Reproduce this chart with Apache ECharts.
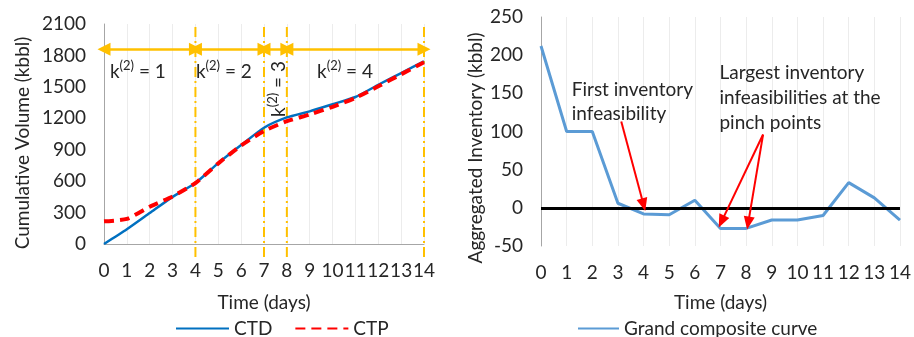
<!DOCTYPE html>
<html>
<head>
<meta charset="utf-8">
<script src="https://cdn.jsdelivr.net/npm/echarts@6/dist/echarts.min.js"></script>
<style>
html, body { margin: 0; padding: 0; background: #fff; }
#chart { width: 914px; height: 337px; }
</style>
</head>
<body>
<div id="chart"></div>
<script>
// values
var days = [0, 1, 2, 3, 4, 5, 6, 7, 8, 9, 10, 11, 12, 13, 14];
var ctd = [0, 140, 295, 450, 582, 772, 944, 1110, 1208, 1266, 1334, 1403, 1520, 1632, 1743];
var ctp = [216, 239, 356, 454, 582, 770, 940, 1078, 1172, 1236, 1310, 1395, 1505, 1620, 1735];
var gcc = [212, 100, 100, 6, -8, -9, 10, -27, -27, -16, -16, -10, 33, 13, -16];
var kBounds = [0, 4, 7, 8, 14];
var kNames = ['1', '2', '3', '4'];

var FONT = 'Lato, "Liberation Sans", sans-serif';
var FS = 19;
var TXT = '#262626';
var GOLD = '#FFC000';

function pairs(ys) {
  return days.map(function (d, i) { return [d, ys[i]]; });
}

// yellow dash-dot boundaries, reaching a bit under the axis
var boundSeries = kBounds.slice(1).map(function (b) {
  return {
    type: 'line', xAxisIndex: 0, yAxisIndex: 0, clip: false, symbol: 'none', silent: true,
    data: [[b, -125], [b, 2100]],
    lineStyle: { color: GOLD, width: 2, type: [10, 4, 2, 4] }, z: 1
  };
});

// double arrows between boundaries
var kArrows = [];
for (var i = 0; i < kBounds.length - 1; i++) {
  kArrows.push([{ coord: [kBounds[i], 1860] }, { coord: [kBounds[i + 1], 1860] }]);
}

var chart = echarts.init(document.getElementById('chart'));

var axisText = { color: TXT, fontSize: FS, fontFamily: FONT };
var plain = function (v) { return String(v); };

chart.setOption({
  animation: false,
  textStyle: { fontFamily: FONT },
  grid: [
    { left: 104, right: 490, top: 24, bottom: 93 },
    { left: 541, right: 11, top: 17, bottom: 91 }
  ],
  xAxis: [
    {
      gridIndex: 0, type: 'value', min: 0, max: 14, interval: 1,
      name: 'Time (days)', nameLocation: 'middle', nameGap: 49,
      nameTextStyle: axisText,
      axisLine: { lineStyle: { color: '#a6a6a6', width: 1 } },
      axisTick: { show: false },
      axisLabel: Object.assign({ margin: 17, formatter: plain }, axisText),
      splitLine: { show: true, lineStyle: { color: '#ececec' } }
    },
    {
      gridIndex: 1, type: 'value', min: 0, max: 14, interval: 1,
      name: 'Time (days)', nameLocation: 'middle', nameGap: 47,
      nameTextStyle: axisText,
      axisLine: { show: false, onZero: false },
      axisTick: { show: false },
      axisLabel: Object.assign({ margin: 17, formatter: plain }, axisText),
      splitLine: { show: true, lineStyle: { color: '#ececec' } }
    }
  ],
  yAxis: [
    {
      gridIndex: 0, type: 'value', min: 0, max: 2100, interval: 300,
      name: 'Cumulative Volume (kbbl)', nameLocation: 'middle', nameGap: 72,
      nameTextStyle: Object.assign({ padding: [0, 18, 0, 0] }, axisText),
      axisLine: { show: true, lineStyle: { color: '#a6a6a6' } },
      axisTick: { show: false },
      axisLabel: Object.assign({ margin: 18, formatter: plain }, axisText),
      splitLine: { show: false }
    },
    {
      gridIndex: 1, type: 'value', min: -50, max: 250, interval: 50,
      name: 'Aggregated Inventory (kbbl)', nameLocation: 'middle', nameGap: 56,
      nameTextStyle: Object.assign({ padding: [0, 33, 0, 0] }, axisText),
      axisLine: { show: true, onZero: false, lineStyle: { color: '#a6a6a6' } },
      axisTick: { show: false },
      axisLabel: Object.assign({ margin: 18, formatter: plain }, axisText),
      splitLine: { show: false }
    }
  ],
  legend: [
    {
      data: ['CTD', 'CTP'], left: 170, top: 314, itemWidth: 53, itemHeight: 14, itemGap: 22,
      itemStyle: { opacity: 0 },
      textStyle: { color: TXT, fontSize: FS, fontFamily: FONT }
    },
    {
      data: ['Grand composite curve'], left: 572, top: 314, itemWidth: 41, itemHeight: 14,
      itemStyle: { opacity: 0 },
      textStyle: { color: TXT, fontSize: FS, fontFamily: FONT }
    }
  ],
  series: boundSeries.concat([
    {
      name: 'CTD', type: 'line', xAxisIndex: 0, yAxisIndex: 0, symbol: 'none', smooth: 0.2,
      data: pairs(ctd), lineStyle: { color: '#0070C0', width: 2.5 }, itemStyle: { color: '#0070C0' }, z: 3
    },
    {
      name: 'CTP', type: 'line', xAxisIndex: 0, yAxisIndex: 0, symbol: 'none', smooth: 0.2,
      data: pairs(ctp), lineStyle: { color: '#FF0000', width: 4, type: [10, 6] }, itemStyle: { color: '#FF0000' }, z: 4,
      markLine: {
        silent: true, symbol: ['triangle', 'triangle'], symbolSize: [13, 13],
        label: { show: false },
        lineStyle: { color: GOLD, width: 2.5, type: 'solid' },
        data: kArrows
      }
    },
    {
      name: 'Grand composite curve', type: 'line', xAxisIndex: 1, yAxisIndex: 1, symbol: 'none',
      data: pairs(gcc), lineStyle: { color: '#5B9BD5', width: 3 }, itemStyle: { color: '#5B9BD5' }, z: 3,
      markLine: {
        silent: true, symbol: 'none', label: { show: false },
        lineStyle: { color: '#000', width: 3, type: 'solid' },
        data: [{ yAxis: 0 }]
      }
    },
    {
      type: 'line', xAxisIndex: 1, yAxisIndex: 1, symbol: 'none', data: [], z: 5,
      markLine: {
        silent: true, symbol: ['none', 'triangle'], symbolSize: [11, 13],
        label: { show: false },
        lineStyle: { color: '#FF0000', width: 2, type: 'solid' },
        data: [
          [{ coord: [3.13, 113] }, { coord: [4, 4] }],
          [{ coord: [8.66, 96] }, { coord: [7.04, -18] }],
          [{ coord: [8.66, 96] }, { coord: [8.08, -20] }]
        ]
      }
    }
  ])
});

// text annotations, anchored in data coordinates
var kLabelPos = [[0.26, 1661, 0], [4.02, 1661, 0], [7.57, 1480, 1], [9.32, 1661, 0]];
var noteFirst = ['First inventory', 'infeasibility'];
var noteLargest = ['Largest inventory', 'infeasibilities at the', 'pinch points'];

function px(g, x, y) { return chart.convertToPixel({ gridIndex: g }, [x, y]); }

var graphics = kLabelPos.map(function (k, i) {
  var p = px(0, k[0], k[1]);
  return {
    type: 'text', x: p[0], y: p[1], rotation: k[2] ? Math.PI / 2 : 0, z: 10,
    style: {
      text: '{b|k}{s|(2)}{b| = ' + kNames[i] + '}',
      align: k[2] ? 'center' : 'left', verticalAlign: 'middle',
      rich: {
        b: { fontSize: FS, fontFamily: FONT, fill: TXT, lineHeight: 22, verticalAlign: 'bottom' },
        s: { fontSize: 13, fontFamily: FONT, fill: TXT, lineHeight: 22, verticalAlign: 'top' }
      }
    }
  };
});

var p1 = px(1, 1.2, 155);
graphics.push({
  type: 'text', x: p1[0], y: p1[1] - 12, z: 10,
  style: { text: noteFirst.join('\n'), font: FS + 'px ' + FONT, fill: TXT, lineHeight: 24, verticalAlign: 'top' }
});
var p2 = px(1, 6.96, 177);
graphics.push({
  type: 'text', x: p2[0], y: p2[1] - 12, z: 10,
  style: { text: noteLargest.join('\n'), font: FS + 'px ' + FONT, fill: TXT, lineHeight: 25, verticalAlign: 'top' }
});

chart.setOption({ graphic: graphics });
</script>
</body>
</html>
